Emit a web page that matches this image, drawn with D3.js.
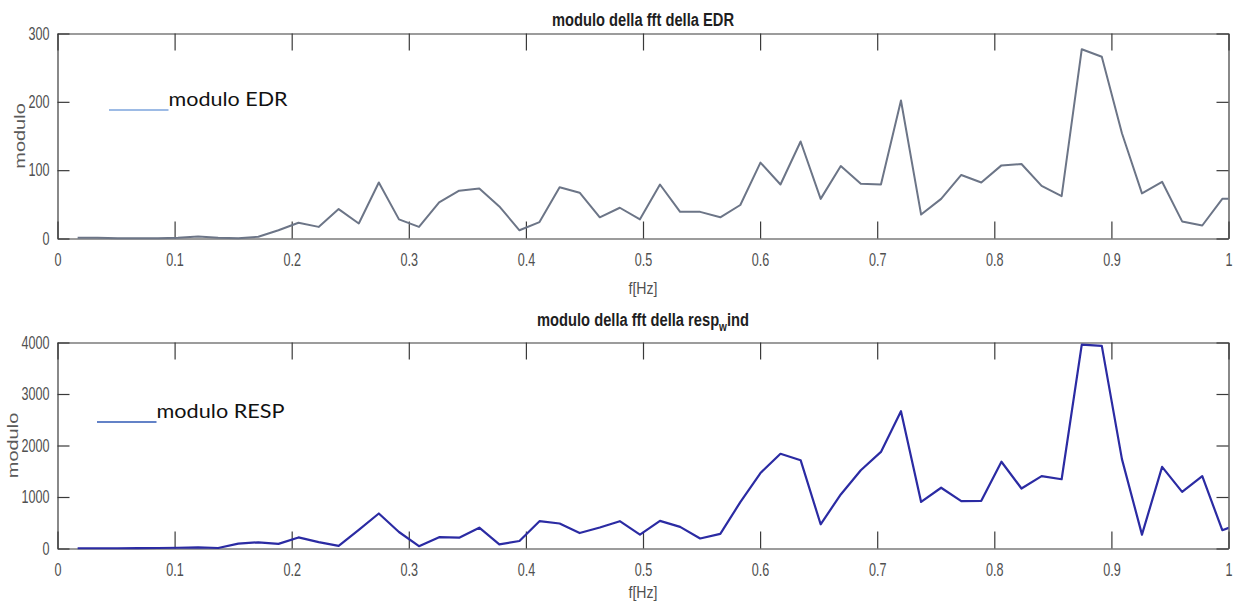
<!DOCTYPE html>
<html>
<head>
<meta charset="utf-8">
<script src="https://cdn.jsdelivr.net/npm/d3@7"></script>
<style>
	body { margin: 0; background: #fff; }
	svg { display: block; }
</style>
</head>
<body>
<svg id="chart" width="1238" height="612"></svg>
<script>

// frequency bins (Hz), one per fft sample; the last one falls just past 1 and is clipped
var freq = [0.0172, 0.0343, 0.0515, 0.0686, 0.0858, 0.1029, 0.1201, 0.1372, 0.1544, 0.1715,
	0.1887, 0.2058, 0.2230, 0.2401, 0.2573, 0.2744, 0.2916, 0.3087, 0.3259, 0.3430,
	0.3602, 0.3773, 0.3945, 0.4116, 0.4288, 0.4459, 0.4631, 0.4802, 0.4974, 0.5145,
	0.5317, 0.5488, 0.5660, 0.5831, 0.6003, 0.6174, 0.6346, 0.6517, 0.6689, 0.6860,
	0.7032, 0.7203, 0.7375, 0.7546, 0.7718, 0.7889, 0.8061, 0.8232, 0.8404, 0.8575,
	0.8747, 0.8918, 0.9090, 0.9261, 0.9433, 0.9604, 0.9776, 0.9947, 1.0119];

// modulo della fft della EDR
var edrModulo = [1, 1, 0.5, 0.5, 0.5, 1, 3, 1, 0.5, 2.5,
	12, 23, 17, 43, 22, 82, 28, 17, 53, 70,
	73, 47, 12, 24, 75, 67, 31, 45, 28, 79,
	39, 39, 31, 49, 111, 79, 142, 58, 106, 80,
	79, 202, 35, 58, 93, 82, 107, 109, 77, 62,
	277, 266, 154, 66, 83, 25, 19, 58, 58];

// modulo della fft della resp_wind
var respModulo = [5, 5, 5, 8, 10, 15, 20, 10, 95, 120,
	90, 215, 125, 50, 360, 680, 320, 45, 220, 210,
	405, 80, 145, 530, 485, 300, 408, 530, 270, 537,
	420, 195, 285, 900, 1465, 1840, 1715, 470, 1050, 1520,
	1875, 2665, 905, 1180, 920, 925, 1685, 1165, 1405, 1345,
	3960, 3935, 1735, 270, 1585, 1100, 1405, 355, 500];

var xTicks = [0, 0.1, 0.2, 0.3, 0.4, 0.5, 0.6, 0.7, 0.8, 0.9, 1];
var edrTicks = [0, 100, 200, 300];
var respTicks = [0, 1000, 2000, 3000, 4000];

var svg = d3.select('#chart');
var plotLeft = 57.5;
var plotRight = 1228.5;
var frameColor = '#3a3a3a';
var labelColor = '#505050';
var tickFont = 'Liberation Sans, Arial, sans-serif';
var squeeze = 0.7;   // the original figure was stretched vertically

var xScale = d3.scaleLinear().domain([0, 1]).range([plotLeft, plotRight]);

function styleAxis(g){
	g.selectAll('path, line')
		.attr('stroke', frameColor)
		.attr('stroke-width', 1.2);
	g.selectAll('text')
		.attr('font-size', 18)
		.attr('font-family', tickFont)
		.attr('fill', labelColor)
		.attr('transform', 'scale(' + squeeze + ',1)');
}

function drawPanel(p){
	var yScale = d3.scaleLinear().domain([0, p.yMax]).range([p.bottom, p.top]);

	// box with inward ticks on all four sides, labels only bottom and left
	var gBottom = svg.append('g')
		.attr('transform', 'translate(0,' + p.bottom + ')')
		.call(d3.axisBottom(xScale).tickValues(xTicks).tickFormat(d3.format('~g'))
			.tickSizeInner(-17).tickSizeOuter(0).tickPadding(15));
	styleAxis(gBottom);

	var gTop = svg.append('g')
		.attr('transform', 'translate(0,' + p.top + ')')
		.call(d3.axisTop(xScale).tickValues(xTicks).tickFormat('')
			.tickSizeInner(-17).tickSizeOuter(0));
	styleAxis(gTop);

	var gLeft = svg.append('g')
		.attr('transform', 'translate(' + plotLeft + ',0)')
		.call(d3.axisLeft(yScale).tickValues(p.yTicks).tickFormat(d3.format('d'))
			.tickSizeInner(-12).tickSizeOuter(0).tickPadding(8));
	styleAxis(gLeft);
	gLeft.selectAll('text').attr('x', -8 / squeeze);

	var gRight = svg.append('g')
		.attr('transform', 'translate(' + plotRight + ',0)')
		.call(d3.axisRight(yScale).tickValues(p.yTicks).tickFormat('')
			.tickSizeInner(-12).tickSizeOuter(0));
	styleAxis(gRight);

	// the data line, clipped to the axes box
	svg.append('clipPath').attr('id', p.clipId)
		.append('rect')
		.attr('x', plotLeft).attr('y', p.top - 2)
		.attr('width', plotRight - plotLeft).attr('height', p.bottom - p.top + 4);

	var line = d3.line()
		.x(function(d, i){ return xScale(freq[i]); })
		.y(function(d){ return yScale(d); });

	svg.append('path')
		.datum(p.values)
		.attr('clip-path', 'url(#' + p.clipId + ')')
		.attr('fill', 'none')
		.attr('stroke', p.lineColor)
		.attr('stroke-width', p.lineWidth)
		.attr('stroke-linejoin', 'round')
		.attr('d', line);

	// title
	var title = svg.append('g')
		.attr('transform', 'translate(' + ((plotLeft + plotRight) / 2) + ',' + p.titleY + ') scale(0.84,1)')
		.append('text')
		.attr('text-anchor', 'middle')
		.attr('font-family', tickFont)
		.attr('font-weight', 'bold')
		.attr('font-size', 17.5)
		.attr('fill', '#1e1e1e');
	title.append('tspan').text(p.title[0]);
	if(p.title.length > 1){
		title.append('tspan').attr('font-size', 12).attr('dy', 5).text(p.title[1]);
		title.append('tspan').attr('font-size', 17.5).attr('dy', -5).text(p.title[2]);
	}

	// x label
	svg.append('g')
		.attr('transform', 'translate(' + ((plotLeft + plotRight) / 2) + ',' + p.xLabelY + ') scale(0.83,1)')
		.append('text')
		.attr('text-anchor', 'middle')
		.attr('font-family', tickFont)
		.attr('font-size', 17)
		.attr('fill', labelColor)
		.text('f[Hz]');

	// y label
	svg.append('g')
		.attr('transform', 'translate(' + p.yLabelX + ',' + ((p.top + p.bottom) / 2) + ') rotate(-90) scale(1,' + squeeze + ')')
		.append('text')
		.attr('text-anchor', 'middle')
		.attr('font-family', tickFont)
		.attr('font-size', 20)
		.attr('fill', '#5a5a5a')
		.text('modulo');

	// hand made legend
	svg.append('line')
		.attr('x1', p.legend.x1).attr('x2', p.legend.x2)
		.attr('y1', p.legend.lineY).attr('y2', p.legend.lineY)
		.attr('stroke', p.legend.color)
		.attr('stroke-width', 1.5);

	svg.append('text')
		.attr('x', p.legend.x2)
		.attr('y', p.legend.textY)
		.attr('font-family', 'Lato, Carlito, sans-serif')
		.attr('font-size', 20)
		.attr('fill', '#111')
		.attr('textLength', p.legend.width)
		.attr('lengthAdjust', 'spacingAndGlyphs')
		.text(p.legend.text);
}

drawPanel({
	top: 33.5, bottom: 238.5, yMax: 300, yTicks: edrTicks,
	values: edrModulo, lineColor: '#6c7587', lineWidth: 2,
	clipId: 'clipEdr',
	title: ['modulo della fft della EDR'], titleY: 26,
	xLabelY: 293.5, yLabelX: 25,
	legend: { x1: 109, x2: 168.5, lineY: 110, textY: 106, width: 119, color: '#7da4dc', text: 'modulo EDR' }
});

drawPanel({
	top: 342.5, bottom: 548.5, yMax: 4000, yTicks: respTicks,
	values: respModulo, lineColor: '#2b2ba3', lineWidth: 2.2,
	clipId: 'clipResp',
	title: ['modulo della fft della resp', 'w', 'ind'], titleY: 326,
	xLabelY: 598, yLabelX: 18.3,
	legend: { x1: 97, x2: 156.5, lineY: 422, textY: 418, width: 128, color: '#2f58b4', text: 'modulo RESP' }
});

</script>
</body>
</html>
